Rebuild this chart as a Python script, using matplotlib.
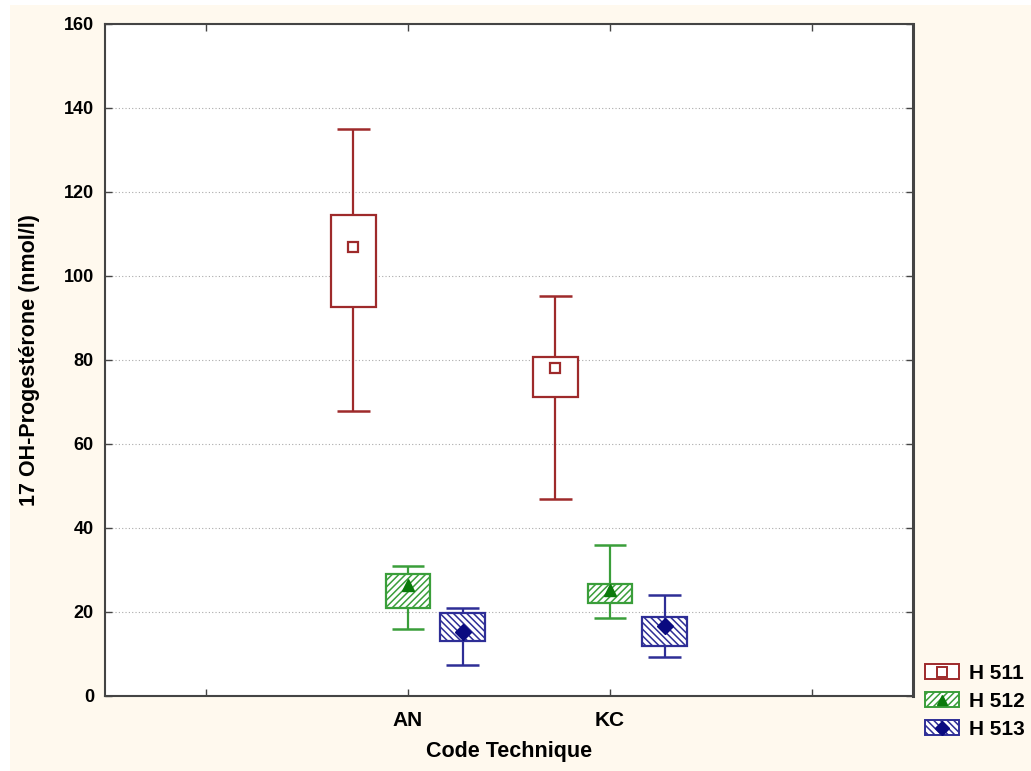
import matplotlib
matplotlib.use("Agg")
import matplotlib.pyplot as plt
import numpy as np
from matplotlib.patches import Patch, Rectangle
from matplotlib.lines import Line2D
from matplotlib.legend_handler import HandlerTuple

plt.rcParams['font.family'] = ['Liberation Sans', 'DejaVu Sans']
plt.rcParams['font.weight'] = 'bold'
plt.rcParams['hatch.linewidth'] = 1.1

categories = ["AN", "KC"]
series = ["H 511", "H 512", "H 513"]
# per series: values per category
mean_vals = [[107.0, 78.1], [26.5, 25.2], [15.2, 16.7]]
box_low = [[92.6, 71.2], [21.0, 22.1], [13.1, 11.9]]
box_high = [[114.5, 80.7], [29.0, 26.7], [19.8, 18.8]]
whisk_low = [[67.9, 46.9], [16.0, 18.6], [7.4, 9.3]]
whisk_high = [[135.0, 95.2], [31.0, 36.0], [21.0, 24.0]]
yticks = [0, 20, 40, 60, 80, 100, 120, 140, 160]

colors = ["#9E2A2B", "#3A9E3A", "#2E2E96"]
marker_colors = ["#9E2A2B", "#0A7A0A", "#0A0A80"]
markers = ["s", "^", "D"]
marker_fill = ["none", "full", "full"]
hatches = ["", "/////", "\\\\\\\\\\"]
offsets = [-0.27, 0.0, 0.27]
box_w = 0.22
cap_w = 0.16

fig = plt.figure(figsize=(10.31, 7.71), dpi=100)
fig.patch.set_facecolor("#FFF9EE")
# white strip at top and left edge
fig.patches.append(Rectangle((0, 1 - 5 / 771), 1, 5 / 771, transform=fig.transFigure,
                             facecolor="white", edgecolor="none", zorder=0))
fig.patches.append(Rectangle((0, 0), 10 / 1031, 1, transform=fig.transFigure,
                             facecolor="white", edgecolor="none", zorder=0))

ax = fig.add_axes([105 / 1031, 75 / 771, 808 / 1031, 672 / 771])
ax.set_facecolor("white")

x_base = np.arange(1, len(categories) + 1)
handles = []
for i, name in enumerate(series):
    x = x_base + offsets[i]
    lo = np.array(box_low[i]); hi = np.array(box_high[i])
    ax.bar(x, hi - lo, bottom=lo, width=box_w, facecolor="white",
           edgecolor=colors[i], hatch=hatches[i], linewidth=1.6, zorder=3)
    ax.vlines(x, whisk_low[i], lo, colors=colors[i], linewidth=1.6, zorder=2)
    ax.vlines(x, hi, whisk_high[i], colors=colors[i], linewidth=1.6, zorder=2)
    ax.hlines(whisk_low[i], x - cap_w / 2, x + cap_w / 2, colors=colors[i], linewidth=1.8, zorder=2)
    ax.hlines(whisk_high[i], x - cap_w / 2, x + cap_w / 2, colors=colors[i], linewidth=1.8, zorder=2)
    if marker_fill[i] == "none":
        ax.plot(x, mean_vals[i], linestyle="none", marker=markers[i], markersize=7.5,
                markerfacecolor="none", markeredgecolor=marker_colors[i], markeredgewidth=1.6, zorder=4)
        mk = Line2D([], [], linestyle="none", marker=markers[i], markersize=6.5,
                    markerfacecolor="none", markeredgecolor=marker_colors[i], markeredgewidth=1.4)
    else:
        ax.plot(x, mean_vals[i], linestyle="none", marker=markers[i], markersize=8,
                color=marker_colors[i], zorder=4)
        mk = Line2D([], [], linestyle="none", marker=markers[i], markersize=7,
                    color=marker_colors[i])
    pt = Patch(facecolor="white", edgecolor=colors[i], hatch=hatches[i], linewidth=1.4)
    handles.append((pt, mk))

ax.set_xlim(-0.5, 3.5)
ax.set_ylim(0, 160)
ax.set_xticks([0, 1, 2, 3])
ax.set_xticklabels(["", "AN", "KC", ""])
ax.set_yticks(yticks)
ax.tick_params(axis="both", direction="in", top=True, right=True,
               length=5, width=1, color="#444444")
ax.tick_params(axis="y", labelsize=13, pad=8)
ax.tick_params(axis="x", labelsize=15, pad=11)
ax.yaxis.grid(True, linestyle=(0, (1, 2)), color="#AAAAAA", linewidth=0.8)
ax.set_axisbelow(True)
for s in ax.spines.values():
    s.set_color("#444444")
    s.set_linewidth(1.5)
ax.spines["right"].set_linewidth(2.2)

ax.set_xlabel("Code Technique", fontsize=15.5, fontweight="bold", labelpad=8)
ax.set_ylabel("17 OH-Progestérone (nmol/l)", fontsize=15.5, fontweight="bold")
ax.yaxis.set_label_coords(-0.080, 0.5)

leg = fig.legend(handles, series, handler_map={tuple: HandlerTuple(ndivide=1)},
                 loc="upper left", bbox_to_anchor=(925 / 1031, 1 - 664 / 771),
                 frameon=False, fontsize=15, handlelength=1.65, handleheight=0.72,
                 handletextpad=0.45, labelspacing=0.43, borderpad=0.0, borderaxespad=0.0)
for t in leg.get_texts():
    t.set_fontweight("bold")

fig.savefig("out.png", dpi=100, facecolor=fig.get_facecolor())
